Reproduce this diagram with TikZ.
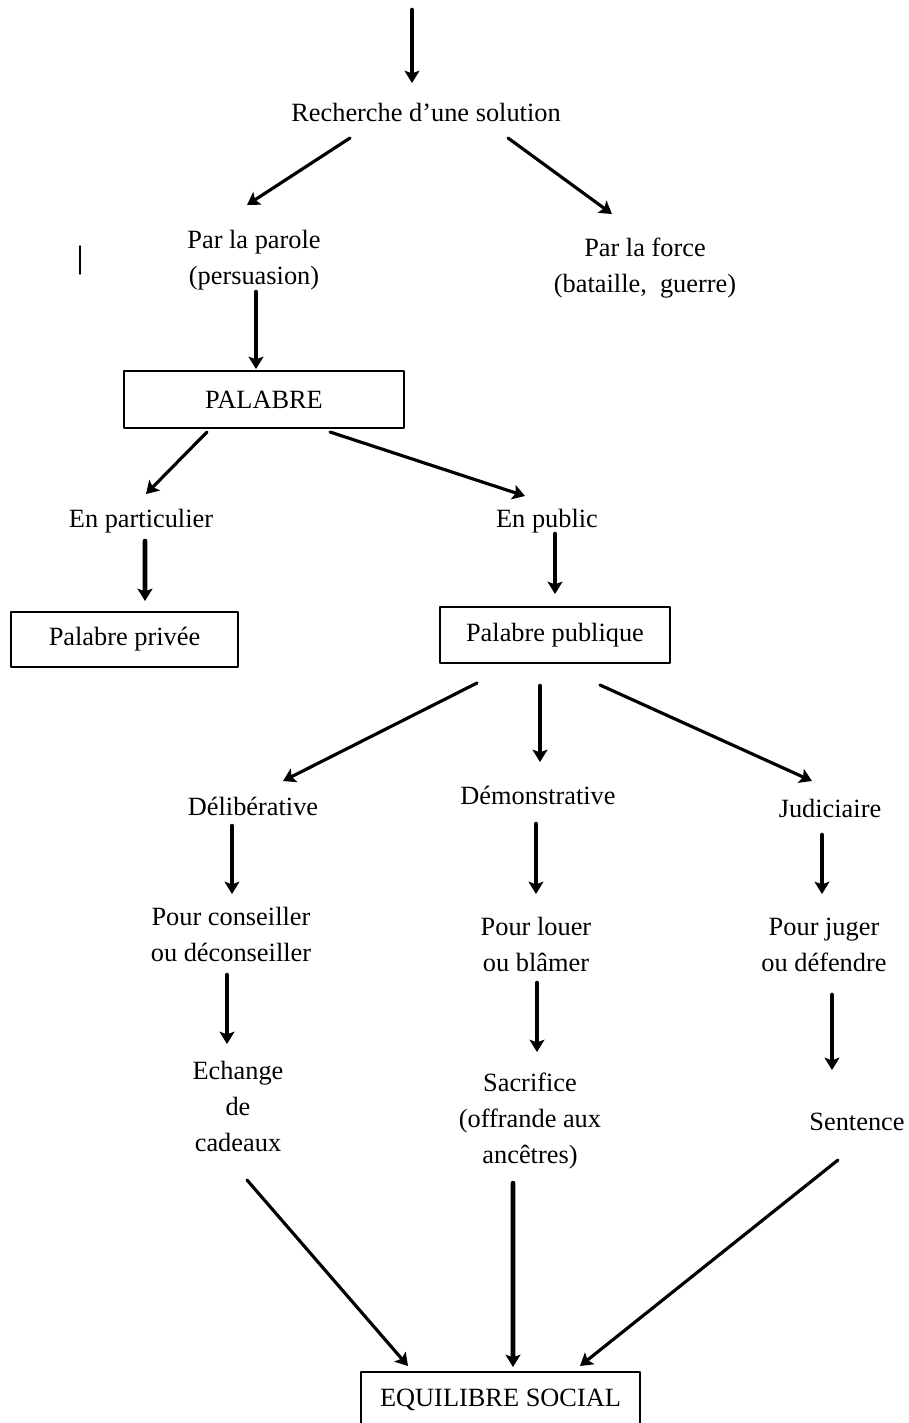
\documentclass[tikz,border=0pt]{standalone}
\usepackage{fontspec}
\setmainfont{Liberation Serif}
\usetikzlibrary{arrows.meta}
\begin{document}
\begin{tikzpicture}[x=0.02cm,y=-0.02cm,line cap=round,line join=round,>={Stealth[length=7pt,width=8.5pt,inset=1.5pt]},
	every node/.style={font=\fontsize{15}{20.5}\selectfont,align=center,inner sep=1pt},
	box/.style={draw,line width=1.1pt,inner sep=0pt},
	arr/.style={->,line width=1.8pt},
	varr/.style={->,line width=2.6pt}]
\useasboundingbox (0,0) rectangle (909,1423);
\coordinate (start) at (412,10);
\node (rech) at (426,112) {Recherche d'une solution};
\node (parole) at (254,260) {Par la parole\\(persuasion)};
\node (force) at (645,268) {Par la force\\(bataille,~ guerre)};
\node[box,minimum width=5.6cm,minimum height=1.14cm] (palabre) at (264,399.5) {PALABRE};
\node (partic) at (141,521) {En particulier};
\node (public) at (547,521) {En public};
\node[box,minimum width=4.54cm,minimum height=1.1cm] (privee) at (124.5,639.5) {Palabre privée};
\node[box,minimum width=4.6cm,minimum height=1.12cm] (publique) at (555,635) {Palabre publique};
\node (delib) at (253,806) {Délibérative};
\node (demo) at (538,795) {Démonstrative};
\node (judic) at (830,808) {Judiciaire};
\node (conseil) at (231,934.5) {Pour conseiller\\ou déconseiller};
\node (louer) at (536,944.5) {Pour louer\\ou blâmer};
\node (juger) at (824,944.5) {Pour juger\\ou défendre};
\node (echange) at (238,1106) {Echange\\de\\cadeaux};
\node (sacrif) at (530,1121) {Sacrifice\\(offrande aux\\ancêtres)};
\node (sentence) at (857,1122) {Sentence};
\node[box,minimum width=5.58cm,minimum height=1.12cm] (equil) at (500.5,1400) {EQUILIBRE SOCIAL};
\draw[line width=0.9pt] (80,246) -- (80,274);
\draw[varr] (start) -- ([shift={(-14,-29)}]rech.center);
\draw[arr] ([shift={(-76,26)}]rech.center) -- ([shift={(-7,-55)}]parole.center);
\draw[arr] ([shift={(82,26)}]rech.center) -- ([shift={(-33,-54)}]force.center);
\draw[varr] ([shift={(2,32)}]parole.center) -- ([shift={(-8,-30.5)}]palabre.center);
\draw[arr] ([shift={(-57,32.5)}]palabre.center) -- ([shift={(5,-27)}]partic.center);
\draw[arr] ([shift={(66,32.5)}]palabre.center) -- ([shift={(-22,-25)}]public.center);
\draw[varr] ([shift={(4,20)}]partic.center) -- ([shift={(20.5,-38.5)}]privee.center);
\draw[varr] ([shift={(8,13)}]public.center) -- ([shift={(0,-41)}]publique.center);
\draw[arr] ([shift={(-78,48)}]publique.center) -- ([shift={(30,-25)}]delib.center);
\draw[varr] ([shift={(-15,51)}]publique.center) -- ([shift={(2,-33)}]demo.center);
\draw[arr] ([shift={(45,50)}]publique.center) -- ([shift={(-18,-27)}]judic.center);
\draw[varr] ([shift={(-21,20)}]delib.center) -- ([shift={(1,-40.5)}]conseil.center);
\draw[varr] ([shift={(-2,29)}]demo.center) -- ([shift={(0,-50.5)}]louer.center);
\draw[varr] ([shift={(-8,27)}]judic.center) -- ([shift={(-2,-50.5)}]juger.center);
\draw[varr] ([shift={(-4,40.5)}]conseil.center) -- ([shift={(-11,-62)}]echange.center);
\draw[varr] ([shift={(1,38.5)}]louer.center) -- ([shift={(7,-69)}]sacrif.center);
\draw[varr] ([shift={(8,50.5)}]juger.center) -- ([shift={(-25,-52)}]sentence.center);
\draw[arr] ([shift={(9,74)}]echange.center) -- ([shift={(-92.5,-34)}]equil.center);
\draw[varr] ([shift={(-17,62)}]sacrif.center) -- ([shift={(12.5,-33)}]equil.center);
\draw[arr] ([shift={(-19,38)}]sentence.center) -- ([shift={(79.5,-34)}]equil.center);
\end{tikzpicture}
\end{document}
